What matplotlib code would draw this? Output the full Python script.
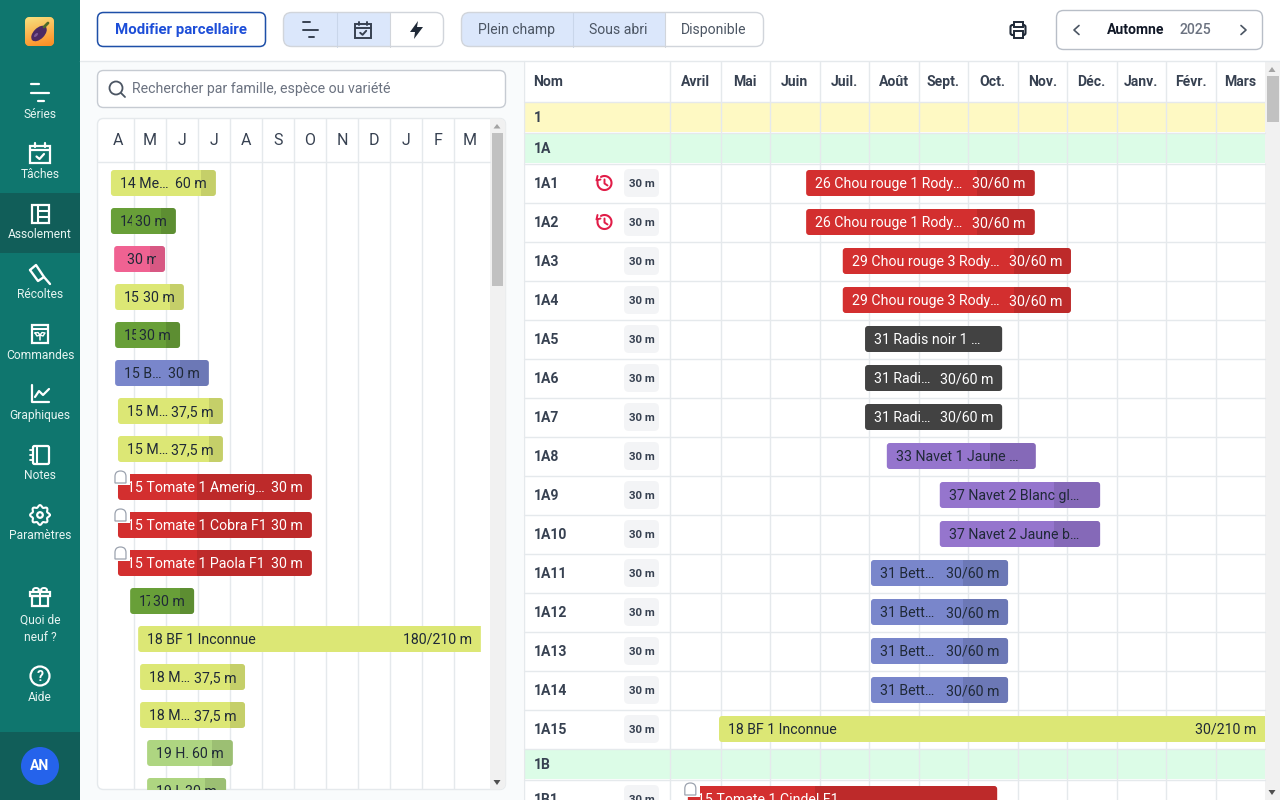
"""Assolement planning screen: seedling list on the left, bed calendar on the right."""
import matplotlib
matplotlib.use("Agg")
import matplotlib.pyplot as plt
import numpy as np
from matplotlib.patches import Circle, Ellipse, FancyBboxPatch, PathPatch, Polygon, Rectangle
from matplotlib.path import Path
from matplotlib.transforms import Bbox

plt.rcParams["font.family"] = ["Roboto", "DejaVu Sans"]

TEAL = "#0f766e"
TEAL_DARK = "#115e59"
GRID = "#e5e9ec"
BORDER = "#d1d5db"
INK = "#1f2937"
SLATE = "#4b5563"
PALE_BLUE = "#dbe7fb"

LIME = "#dce775"
GREEN = "#689f38"
PINK = "#f06292"
INDIGO = "#7986cb"
SAGE = "#aed581"
RED = "#d32f2f"
CHARCOAL = "#424242"
PURPLE = "#9575cd"

# left panel: bars in months from April, one row each
LEFT_MONTHS = ["A", "M", "J", "J", "A", "S", "O", "N", "D", "J", "F", "M"]
LEFT_LABELS = ["14 Me…", "14", "", "15", "15", "15 B…", "15 M…", "15 M…",
               "15 Tomate 1 Amerig…", "15 Tomate 1 Cobra F1", "15 Tomate 1 Paola F1",
               "17", "18 BF 1 Inconnue", "18 M…", "18 M…", "19 H.", "19 H"]
LEFT_QTY = ["60 m", "30 m", "30 m", "30 m", "30 m", "30 m", "37,5 m", "37,5 m",
            "30 m", "30 m", "30 m", "30 m", "180/210 m", "37,5 m", "37,5 m", "60 m", "30 m"]
LEFT_START = [0.27, 0.27, 0.37, 0.40, 0.40, 0.40, 0.49, 0.49, 0.49, 0.49, 0.49,
              0.87, 1.12, 1.18, 1.18, 1.40, 1.40]
LEFT_END = [3.55, 2.30, 1.96, 2.55, 2.43, 3.33, 3.77, 3.77, 6.55, 6.55, 6.55,
            2.87, 11.83, 4.46, 4.46, 4.08, 3.87]
LEFT_SPLIT = [3.08, 1.83, 1.49, 2.12, 1.99, 2.43, 3.33, 3.33, 2.96, 2.96, 2.96,
              2.43, None, 3.99, 3.99, 3.43, 3.21]
LEFT_COLORS = [LIME, GREEN, PINK, LIME, GREEN, INDIGO, LIME, LIME, RED, RED, RED,
               GREEN, LIME, LIME, LIME, SAGE, SAGE]
LEFT_NOTCHED = [8, 9, 10]

# right panel: beds and their bars
RIGHT_MONTHS = ["Avril", "Mai", "Juin", "Juil.", "Août", "Sept.", "Oct.", "Nov.",
                "Déc.", "Janv.", "Févr.", "Mars"]
ROW_NAMES = ["1", "1A", "1A1", "1A2", "1A3", "1A4", "1A5", "1A6", "1A7", "1A8", "1A9",
             "1A10", "1A11", "1A12", "1A13", "1A14", "1A15", "1B", "1B1"]
ROW_KINDS = ["block", "sub"] + ["bed"] * 15 + ["sub", "bed"]
LATE_BEDS = ["1A1", "1A2"]
BAR_ROWS = ["1A1", "1A2", "1A3", "1A4", "1A5", "1A6", "1A7", "1A8", "1A9", "1A10",
            "1A11", "1A12", "1A13", "1A14", "1A15", "1B1"]
RIGHT_LABELS = ["26 Chou rouge 1 Rody…", "26 Chou rouge 1 Rody…", "29 Chou rouge 3 Rody…",
                "29 Chou rouge 3 Rody…", "31 Radis noir 1 …", "31 Radi…", "31 Radi…",
                "33 Navet 1 Jaune …", "37 Navet 2 Blanc gl…", "37 Navet 2 Jaune b…",
                "31 Bett…", "31 Bett…", "31 Bett…", "31 Bett…", "18 BF 1 Inconnue",
                "15 Tomate 1 Cindel F1"]
RIGHT_QTY = ["30/60 m", "30/60 m", "30/60 m", "30/60 m", "", "30/60 m", "30/60 m", "", "", "",
             "30/60 m", "30/60 m", "30/60 m", "30/60 m", "30/210 m", ""]
RIGHT_START = [2.73, 2.73, 3.47, 3.47, 3.92, 3.92, 3.92, 4.36, 5.43, 5.43,
               4.04, 4.04, 4.04, 4.04, 0.97, 0.34]
RIGHT_END = [7.35, 7.35, 8.08, 8.08, 6.69, 6.69, 6.69, 7.37, 8.67, 8.67,
             6.81, 6.81, 6.81, 6.81, 12.0, 6.59]
RIGHT_SPLIT = [6.18, 6.18, 6.93, 6.93, None, None, None, 6.44, 7.74, 7.74,
               5.90, 5.90, 5.90, 5.90, None, 2.91]
RIGHT_COLORS = [RED, RED, RED, RED, CHARCOAL, CHARCOAL, CHARCOAL, PURPLE, PURPLE, PURPLE,
                INDIGO, INDIGO, INDIGO, INDIGO, LIME, RED]
RIGHT_NOTCHED = [15]

NAV_LABELS = ["Séries", "Tâches", "Assolement", "Récoltes", "Commandes", "Graphiques",
              "Notes", "Paramètres", "Quoi de", "neuf ?", "Aide"]
NAV_Y = [114, 174, 234, 294, 355, 415, 475, 535, 619, 637, 697]


def px(size):
    return size * 0.72


def label(ax, x, y, s, size=14, color=INK, ha="center", weight="normal"):
    # y is the middle of the capitals, so every string sits on the same baseline
    return ax.text(x, y + 0.355 * size, s, color=color, fontsize=px(size), ha=ha, va="baseline",
                   fontweight=weight, zorder=5)


def rounded(ax, x, y, w, h, r=6, fc="white", ec="none", lw=1.0, z=2):
    patch = FancyBboxPatch((x + r, y + r), w - 2 * r, h - 2 * r,
                           boxstyle=f"round,pad={r},rounding_size={r}",
                           fc=fc, ec=ec, lw=lw, zorder=z)
    ax.add_patch(patch)
    return patch


def line(ax, xs, ys, color="white", lw=1.5, z=4):
    ax.plot(xs, ys, color=color, lw=lw, zorder=z, solid_capstyle="round", solid_joinstyle="round")


def segmented(ax, x, y, w, h, splits, blue_until):
    box = rounded(ax, x, y, w, h, r=8, fc="white", ec="none", z=2)
    fill = Rectangle((x, y), blue_until - x, h, fc=PALE_BLUE, ec="none", zorder=2.1)
    ax.add_patch(fill)
    fill.set_clip_path(box)
    rounded(ax, x, y, w, h, r=8, fc="none", ec=BORDER, lw=1.0, z=2.3)
    for s in splits:
        line(ax, [s, s], [y, y + h], color=BORDER if s >= blue_until else "#c9d6ea", lw=0.8, z=2.2)


def draw_rows_icon(ax, cx, cy, color, lw=1.6, k=1.0):
    line(ax, [cx - 9 * k, cx - 1 * k], [cy - 9 * k, cy - 9 * k], color, lw)
    line(ax, [cx - 9 * k, cx + 9 * k], [cy, cy], color, lw)
    line(ax, [cx - 2 * k, cx + 4 * k], [cy + 8 * k, cy + 8 * k], color, lw)


def draw_calendar_icon(ax, cx, cy, color, lw=1.6, size=10):
    ax.add_patch(Rectangle((cx - size, cy - size * 0.75), 2 * size, size * 1.75, fc="none", ec=color, lw=lw, zorder=4))
    line(ax, [cx - size, cx + size], [cy - size * 0.3, cy - size * 0.3], color, lw)
    line(ax, [cx - size * 0.5] * 2, [cy - size * 1.05, cy - size * 0.6], color, lw)
    line(ax, [cx + size * 0.5] * 2, [cy - size * 1.05, cy - size * 0.6], color, lw)
    line(ax, [cx - size * 0.35, cx - size * 0.05, cx + size * 0.4],
         [cy + size * 0.35, cy + size * 0.6, cy + size * 0.1], color, lw)


def draw_nav_icons(ax):
    draw_rows_icon(ax, 40, 93, "white")
    draw_calendar_icon(ax, 40, 153, "white")
    # assolement
    ax.add_patch(Rectangle((31.5, 205), 17, 18, fc="none", ec="white", lw=1.6, zorder=4))
    line(ax, [37.5, 37.5], [205, 223])
    line(ax, [37.5, 48.5], [211, 211])
    line(ax, [37.5, 48.5], [217, 217])
    # knife
    line(ax, [30, 36, 44, 50], [270, 265, 277, 284], "white", 1.7)
    line(ax, [30, 38, 41, 44], [270, 281, 279, 277], "white", 1.7)
    # commandes
    ax.add_patch(Rectangle((32, 325), 16, 18, fc="none", ec="white", lw=1.6, zorder=4))
    line(ax, [32, 48], [329, 329], "white", 1.5)
    line(ax, [35, 37, 40, 43, 45, 42, 40, 38, 35], [333, 336, 335, 336, 333, 332.5, 335, 332.5, 333], "white", 1.0)
    line(ax, [40, 40], [335, 340], "white", 1.1)
    # graphiques
    line(ax, [32, 32, 49], [385, 402, 402], "white", 1.6)
    line(ax, [35, 39, 43, 49], [397, 391, 395, 389], "white", 1.6)
    # notes
    rounded(ax, 33, 446, 16, 18, r=1.5, fc="none", ec="white", lw=1.6, z=4)
    line(ax, [37, 37], [446, 464], "white", 1.5)
    for yy in (450, 455, 460):
        line(ax, [30, 33], [yy, yy], "white", 1.3)
    # parametres
    angles = np.linspace(0, 2 * np.pi, 160)
    radius = 8.8 + 1.1 * np.cos(8 * angles)
    line(ax, 40 + radius * np.cos(angles), 515 + radius * np.sin(angles), "white", 1.5)
    ax.add_patch(Circle((40, 515), 2.8, fc="none", ec="white", lw=1.6, zorder=4))
    # cadeau
    ax.add_patch(Rectangle((32, 596), 16, 10, fc="none", ec="white", lw=1.6, zorder=4))
    ax.add_patch(Rectangle((30, 592), 20, 4, fc="none", ec="white", lw=1.6, zorder=4))
    line(ax, [40, 40], [592, 606], "white", 1.5)
    ax.add_patch(Ellipse((36, 590), 6, 4, fc="none", ec="white", lw=1.4, zorder=4))
    ax.add_patch(Ellipse((44, 590), 6, 4, fc="none", ec="white", lw=1.4, zorder=4))
    # aide
    ax.add_patch(Circle((40, 676), 9.5, fc="none", ec="white", lw=1.6, zorder=4))
    label(ax, 40, 676, "?", 14, "white", weight="bold")


def draw_logo(ax):
    box = rounded(ax, 25, 17, 29, 29, r=5, fc="#fbb040", z=3)
    ramp = np.linspace(0, 1, 64)[:, None] * np.ones((1, 64)) + np.ones((64, 1)) * np.linspace(0, 0.25, 64)[None, :]
    colors = np.zeros((64, 64, 3))
    colors[..., 0] = 0.97 + 0.02 * ramp
    colors[..., 1] = 0.88 - 0.27 * ramp
    colors[..., 2] = 0.50 - 0.30 * ramp
    img = ax.imshow(colors, extent=(25, 54, 46, 17), zorder=3.1, aspect="auto")
    img.set_clip_path(box)
    ax.add_patch(Ellipse((39, 33.5), 19, 11, angle=-45, fc="#4c2a63", ec="none", zorder=4))
    ax.add_patch(Ellipse((36, 35), 5, 2.5, angle=-45, fc="#7d5a96", ec="none", zorder=4.1))
    line(ax, [44, 48], [27, 23], "#4d6b2a", 2.0, z=4.2)


def draw_late_icon(ax, cx, cy):
    red = "#e11d48"
    theta = np.radians(np.linspace(-120, 190, 60))
    line(ax, cx + 7 * np.cos(theta), cy + 7 * np.sin(theta), red, 1.5)
    line(ax, [cx - 7, cx - 8, cx - 4], [cy - 7, cy - 2.5, cy - 3.5], red, 1.4)
    line(ax, [cx, cx, cx + 3], [cy - 3.5, cy + 0.5, cy + 2.5], red, 1.4)


def draw_bar(ax, renderer, start, end, split, y, name, qty, color, pitch, notched, square_end=False):
    """One crop bar; x is in months and y in pixels, pitch is pixels per month."""
    r = 3 / pitch
    ink = "white" if color in (RED, CHARCOAL) else INK
    x0, x1, y0, y1 = start, end, y - 13, y + 13
    if square_end:
        verts = [(x0 + r, y0), (x1, y0), (x1, y1), (x0 + r, y1), (x0, y1), (x0, y1 - 3), (x0, y0 + 3), (x0, y0), (x0 + r, y0)]
        codes = [Path.MOVETO, Path.LINETO, Path.LINETO, Path.LINETO, Path.CURVE3, Path.CURVE3, Path.LINETO, Path.CURVE3, Path.CURVE3]
    else:
        verts = [(x0 + r, y0), (x1 - r, y0), (x1, y0), (x1, y0 + 3), (x1, y1 - 3), (x1, y1), (x1 - r, y1),
                 (x0 + r, y1), (x0, y1), (x0, y1 - 3), (x0, y0 + 3), (x0, y0), (x0 + r, y0)]
        codes = [Path.MOVETO, Path.LINETO, Path.CURVE3, Path.CURVE3, Path.LINETO, Path.CURVE3, Path.CURVE3,
                 Path.LINETO, Path.CURVE3, Path.CURVE3, Path.LINETO, Path.CURVE3, Path.CURVE3]
    body = PathPatch(Path(verts, codes), fc=color, ec="none", zorder=3)
    ax.add_patch(body)
    if split is not None:
        shade = Rectangle((split, y0), end - split, 26, fc="black", alpha=0.1, ec="none", zorder=3.1)
        ax.add_patch(shade)
        shade.set_clip_path(body)
    if notched:
        ax.add_patch(Rectangle((start - 1 / pitch, y0 - 1), 13 / pitch, 12, fc="white", ec="none", zorder=3.2))
        left, top = start - 3 / pitch, y0 - 3
        w, h = 11 / pitch, 12
        pts = [(left, top + h), (left, top + 5.5), (left, top), (left + w / 2, top), (left + w, top),
               (left + w, top + 5.5), (left + w, top + h), (left, top + h)]
        kinds = [Path.MOVETO, Path.LINETO, Path.CURVE3, Path.CURVE3, Path.CURVE3, Path.CURVE3, Path.LINETO, Path.CLOSEPOLY]
        ax.add_patch(PathPatch(Path(pts, kinds), fc="white", ec="#9ca3af", lw=0.9, zorder=3.3))

    shift = 9 * 0.72
    drop = -5 * 0.72
    limit = ax.transData.transform((end, y))[0] - 9
    bottom, height = ax.bbox.y0, ax.bbox.y1
    qty_left = limit
    if qty:
        if name:
            qty_text = ax.annotate(qty, (end, y), xytext=(-shift, drop), textcoords="offset points", color=ink,
                                   fontsize=px(14.15), ha="right", va="baseline", zorder=4, annotation_clip=False)
        else:
            # a bar too short for its quantity starts it after the padding and cuts the end
            qty_text = ax.annotate(qty, (start, y), xytext=(13 * 0.72, drop), textcoords="offset points", color=ink,
                                   fontsize=px(14.15), ha="left", va="baseline", zorder=4, annotation_clip=False)
        qty_left = qty_text.get_window_extent(renderer).x0 - 3.5
        qty_text.set_clip_box(Bbox.from_extents(0, bottom, limit, height))
        qty_text.set_clip_on(True)
    if name:
        text = ax.annotate(name, (start, y), xytext=(shift, drop), textcoords="offset points", color=ink,
                           fontsize=px(14.15), ha="left", va="baseline", zorder=4, annotation_clip=False)
        text.set_clip_box(Bbox.from_extents(0, bottom, qty_left, height))
        text.set_clip_on(True)


def main():
    fig = plt.figure(figsize=(12.8, 8), dpi=100, facecolor="white")
    ui = fig.add_axes([0, 0, 1, 1], zorder=0)
    ui.axis("off")
    renderer = fig.canvas.get_renderer()

    # page and sidebar
    ui.add_patch(Rectangle((80, 61), 443, 739, fc="#f9fbfc", ec="none", zorder=0.5))
    ui.add_patch(Rectangle((0, 0), 80, 800, fc=TEAL, ec="none", zorder=1))
    ui.add_patch(Rectangle((0, 193), 80, 60, fc=TEAL_DARK, ec="none", zorder=1.1))
    ui.add_patch(Rectangle((0, 732), 80, 68, fc=TEAL_DARK, ec="none", zorder=1.1))
    ui.add_patch(Circle((40, 766), 19, fc="#2563eb", ec="none", zorder=3))
    label(ui, 40, 765, "AN", 14, "white", weight="bold")
    draw_logo(ui)
    draw_nav_icons(ui)
    for name, y in zip(NAV_LABELS, NAV_Y):
        label(ui, 40, y, name, 12, "#e6f4f1")

    # top bar
    line(ui, [80, 1280], [60.5, 60.5], GRID, 1.0, z=3)
    rounded(ui, 97.5, 12.5, 168, 34, r=6, fc="white", ec="#1e4fa8", lw=1.1)
    label(ui, 181, 29, "Modifier parcellaire", 15, "#1d4ed8", weight="bold")
    segmented(ui, 283.5, 12.5, 160, 34, [337, 390], 390)
    draw_rows_icon(ui, 310.5, 30, "#374151", 1.4, 0.85)
    draw_calendar_icon(ui, 363, 30, "#374151", 1.4, 8)
    ui.add_patch(Polygon([(418, 21), (410, 32), (415, 32), (414, 39), (423, 27), (417, 27)], closed=True,
                         fc="#1f2937", ec="none", zorder=4))
    segmented(ui, 461.5, 12.5, 302, 34, [573, 665], 665)
    for name, x in zip(["Plein champ", "Sous abri", "Disponible"], [517, 618, 714]):
        label(ui, x, 29, name, 14, SLATE)
    # printer
    rounded(ui, 1010.5, 25, 15, 10, r=2, fc="none", ec=INK, lw=1.5, z=4)
    ui.add_patch(Rectangle((1013.5, 22), 9, 5, fc="white", ec=INK, lw=1.4, zorder=4.1))
    ui.add_patch(Rectangle((1013.5, 31), 9, 6.5, fc="white", ec=INK, lw=1.4, zorder=4.1))
    rounded(ui, 1056.5, 10.5, 206, 39, r=7, fc="white", ec="#b8bec7", lw=1.0)
    line(ui, [1079, 1074, 1079], [25.5, 30, 34.5], SLATE, 1.2)
    line(ui, [1241, 1246, 1241], [25.5, 30, 34.5], SLATE, 1.2)
    label(ui, 1136, 29, "Automne", 14, "#111827", weight="bold")
    label(ui, 1195, 29, "2025", 14, "#6b7280", weight="medium")

    # search box
    rounded(ui, 97.5, 70.5, 408, 37, r=6, fc="white", ec="#c6cbd2", lw=1.0)
    ui.add_patch(Circle((116, 88), 6.5, fc="none", ec=SLATE, lw=1.3, zorder=4))
    line(ui, [121, 125], [93, 97], SLATE, 1.3)
    label(ui, 132, 88, "Rechercher par famille, espèce ou variété", 14.15, "#6b7280", ha="left")

    # left panel frame and scrollbar
    frame = rounded(ui, 97.5, 118.5, 408, 671, r=6, fc="white", ec=GRID, lw=1.0)
    track = Rectangle((490, 118), 16, 672, fc="#f1f1f1", ec="none", zorder=2.1)
    ui.add_patch(track)
    track.set_clip_path(frame)
    ui.add_patch(Rectangle((492, 133), 11, 153, fc="#c1c1c1", ec="none", zorder=2.2))
    ui.add_patch(Polygon([(493.5, 128.5), (500.5, 128.5), (497, 124)], closed=True, fc="#a3a3a3", ec="none", zorder=2.2))
    ui.add_patch(Polygon([(493.5, 780), (500.5, 780), (497, 785)], closed=True, fc="#505050", ec="none", zorder=2.2))
    line(ui, [98, 490], [161.5, 161.5], GRID, 1.0, z=2.2)

    # right table rows and frame
    line(ui, [523.5, 523.5], [61, 800], GRID, 1.0, z=2)
    line(ui, [524, 1265], [101.5, 101.5], GRID, 1.0, z=2)
    label(ui, 533, 81, "Nom", 14, "#374151", ha="left", weight="bold")
    ui.add_patch(Rectangle((1265, 61), 15, 739, fc="#f1f1f1", ec="none", zorder=2))
    ui.add_patch(Rectangle((1267, 76), 12, 46, fc="#c1c1c1", ec="none", zorder=2.2))
    ui.add_patch(Polygon([(1268.5, 72), (1275.5, 72), (1272, 67)], closed=True, fc="#a3a3a3", ec="none", zorder=2.2))
    ui.add_patch(Polygon([(1268.5, 790), (1275.5, 790), (1272, 795)], closed=True, fc="#505050", ec="none", zorder=2.2))

    row_height = {"block": 31, "sub": 31, "bed": 39}
    band = {"block": "#fef9c3", "sub": "#dcfce7"}
    row_center = {}
    top = 102
    for name, kind in zip(ROW_NAMES, ROW_KINDS):
        h = row_height[kind]
        row_center[name] = top + (h - 1) / 2
        if kind in band:
            ui.add_patch(Rectangle((524, top), 741, h - 1, fc=band[kind], ec="none", zorder=1.5))
        line(ui, [524, 1265], [top + h - 0.5, top + h - 0.5], GRID, 1.0, z=2)
        label(ui, 534, row_center[name], name, 14, "#374151", ha="left", weight="bold")
        if kind == "bed":
            rounded(ui, 624, row_center[name] - 14, 35, 28, r=5, fc="#f3f4f6", z=2.5)
            label(ui, 641.5, row_center[name], "30 m", 11.5, "#374151", weight="bold")
        if name in LATE_BEDS:
            draw_late_icon(ui, 604.5, row_center[name])
        top += h
    ui.set_xlim(0, 1280)
    ui.set_ylim(800, 0)

    # left gantt, months on x
    pitch_left = 32
    origin_left = 102.3
    ax_left = fig.add_axes([98 / 1280, 10 / 800, 392 / 1280, 672 / 800], zorder=2)
    ax_left.patch.set_visible(False)
    ax_left.axis("off")
    ax_left.set_xlim((98 - origin_left) / pitch_left, (490 - origin_left) / pitch_left)
    ax_left.set_ylim(790, 118)
    for m in range(1, 12):
        ax_left.axvline(m, color=GRID, lw=1.0, zorder=1)
    for m, letter in enumerate(LEFT_MONTHS):
        label(ax_left, m + 0.49, 139, letter, 16, "#374151")
    for i, qty in enumerate(LEFT_QTY):
        draw_bar(ax_left, renderer, LEFT_START[i], LEFT_END[i], LEFT_SPLIT[i], 183 + 38 * i, LEFT_LABELS[i], qty,
                 LEFT_COLORS[i], pitch_left, i in LEFT_NOTCHED, square_end=LEFT_SPLIT[i] is None)

    # right gantt, months on x
    pitch_right = 49.5
    origin_right = 671
    ax_right = fig.add_axes([524 / 1280, 0, 741 / 1280, 739 / 800], zorder=2)
    ax_right.patch.set_visible(False)
    ax_right.axis("off")
    ax_right.set_xlim((524 - origin_right) / pitch_right, 12)
    ax_right.set_ylim(800, 61)
    for m in range(0, 12):
        ax_right.axvline(m - (0.02 if m == 0 else 0), color=GRID, lw=1.0, zorder=1)
    for m, month in enumerate(RIGHT_MONTHS):
        label(ax_right, m + 0.5, 81, month, 14, "#374151", weight="bold")
    for i, name in enumerate(BAR_ROWS):
        draw_bar(ax_right, renderer, RIGHT_START[i], RIGHT_END[i], RIGHT_SPLIT[i], row_center[name],
                 RIGHT_LABELS[i], RIGHT_QTY[i], RIGHT_COLORS[i], pitch_right, i in RIGHT_NOTCHED,
                 square_end=RIGHT_END[i] >= 12)

    fig.savefig("out.png", dpi=100, facecolor="white")


main()
